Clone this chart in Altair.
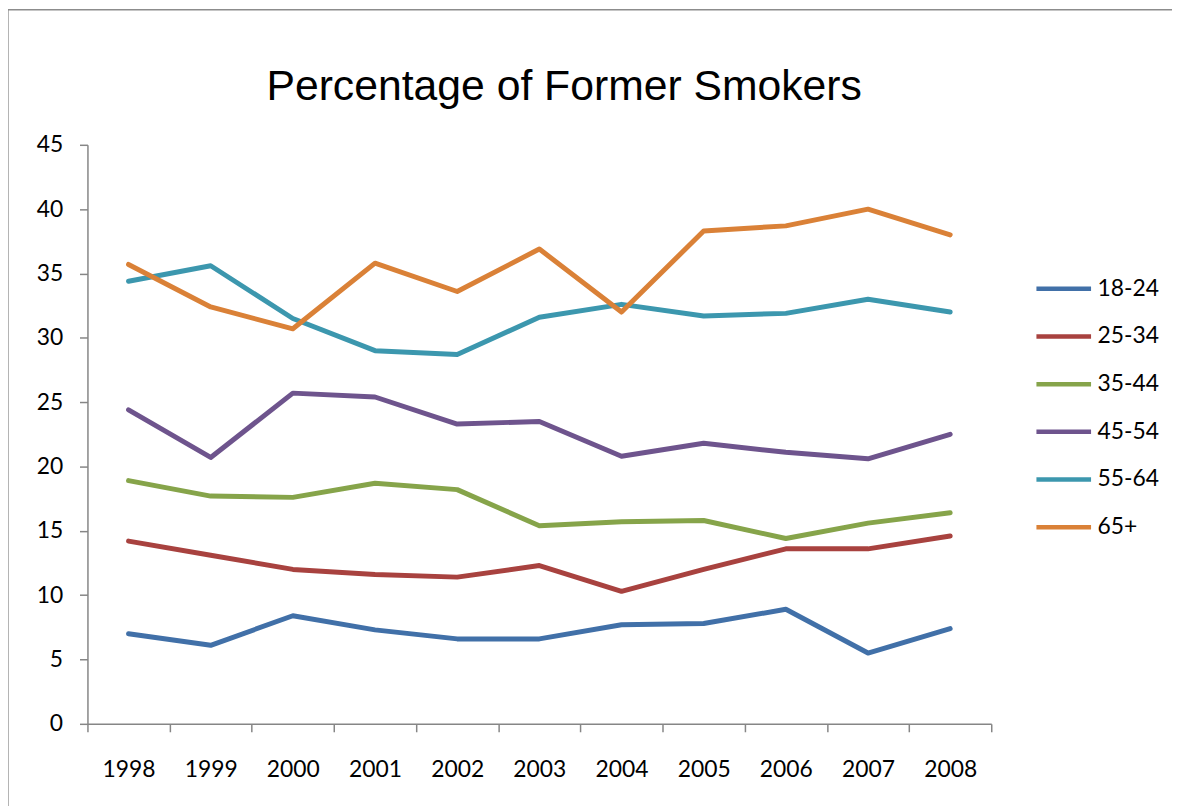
import altair as alt
import pandas as pd

years = ["1998", "1999", "2000", "2001", "2002", "2003", "2004", "2005", "2006", "2007", "2008"]
groups = ["18-24", "25-34", "35-44", "45-54", "55-64", "65+"]

s_18_24 = [7.0, 6.1, 8.4, 7.3, 6.6, 6.6, 7.7, 7.8, 8.9, 5.5, 7.4]
s_25_34 = [14.2, 13.1, 12.0, 11.6, 11.4, 12.3, 10.3, 12.0, 13.6, 13.6, 14.6]
s_35_44 = [18.9, 17.7, 17.6, 18.7, 18.2, 15.4, 15.7, 15.8, 14.4, 15.6, 16.4]
s_45_54 = [24.4, 20.7, 25.7, 25.4, 23.3, 23.5, 20.8, 21.8, 21.1, 20.6, 22.5]
s_55_64 = [34.4, 35.6, 31.5, 29.0, 28.7, 31.6, 32.6, 31.7, 31.9, 33.0, 32.0]
s_65_up = [35.7, 32.4, 30.7, 35.8, 33.6, 36.9, 32.0, 38.3, 38.7, 40.0, 38.0]

colors = ["#4170A8", "#A8423F", "#86A44A", "#6E548D", "#3C97AE", "#DA8137"]
title_text = "Percentage of Former Smokers"

series = [s_18_24, s_25_34, s_35_44, s_45_54, s_55_64, s_65_up]
rows = []
for g, vals in zip(groups, series):
    for y, v in zip(years, vals):
        rows.append({"year": y, "group": g, "value": v})
df = pd.DataFrame(rows)

W, H = 910, 583
AXIS = "#868686"
LABEL_FONT = "Lato"

lines = alt.Chart(df).mark_line(strokeWidth=5, strokeCap="round", strokeJoin="round").encode(
    x=alt.X("year:O", sort=years, bandPosition=0.5,
            scale=alt.Scale(type="band", paddingInner=0, paddingOuter=0),
            axis=alt.Axis(title=None, labelAngle=0, tickBand="extent", domainColor=AXIS,
                          domainWidth=1.5, tickColor=AXIS, tickWidth=1.5, tickSize=8,
                          labelFont=LABEL_FONT, labelFontSize=23, labelColor="#000000",
                          labelPadding=27, grid=False)),
    y=alt.Y("value:Q", scale=alt.Scale(domain=[0, 45], nice=False),
            axis=alt.Axis(title=None, values=list(range(0, 46, 5)), domainColor=AXIS,
                          domainWidth=1.5, tickColor=AXIS, tickWidth=1.5, tickSize=8,
                          labelFont=LABEL_FONT, labelFontSize=23, labelColor="#000000",
                          labelPadding=17, grid=False)),
    color=alt.Color("group:N", sort=groups,
                    scale=alt.Scale(domain=groups, range=colors),
                    legend=alt.Legend(title=None, orient="none", legendX=953, legendY=115,
                                      symbolType="stroke", symbolSize=3025,
                                      symbolStrokeWidth=4.5, labelFont=LABEL_FONT,
                                      labelFontSize=23, labelColor="#000000",
                                      labelOffset=4, rowPadding=6)),
)

frame = alt.Chart(alt.Data(values=[{}])).mark_rect(
    fillOpacity=0, stroke="#8C8C8C", strokeWidth=1.3
).encode(
    x=alt.value(-80), x2=alt.value(W + 400),
    y=alt.value(-136), y2=alt.value(H + 400),
)

title = alt.Chart(alt.Data(values=[{}])).mark_text(
    text=title_text, font="Liberation Sans", fontSize=43, color="#000000",
    align="center", baseline="alphabetic"
).encode(x=alt.value(480), y=alt.value(-45))

chart = alt.layer(frame, title, lines).properties(
    width=W, height=H,
    autosize=alt.AutoSizeParams(type="none"),
    padding={"left": 80, "top": 135, "right": 182, "bottom": 80},
).configure_view(stroke=None)

chart.save("out.html", embed_options={"renderer": "svg", "actions": False})
